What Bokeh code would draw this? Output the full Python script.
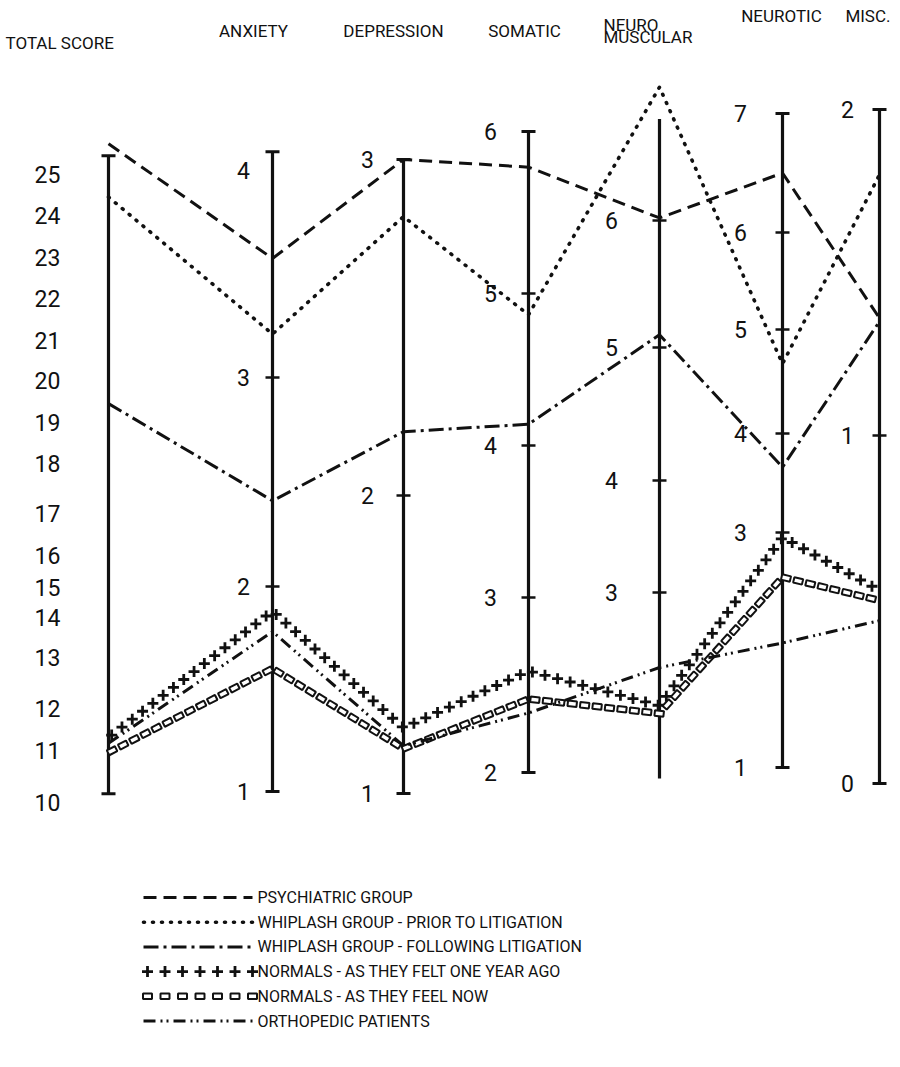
import numpy as np
from bokeh.plotting import figure
from bokeh.models import Range1d
from bokeh.core.properties import value
from bokeh.embed import file_html
from bokeh.resources import INLINE

# ---------------- data ----------------
AXIS_NAMES = ["TOTAL SCORE", "ANXIETY", "DEPRESSION", "SOMATIC", "NEURO", "NEUROTIC", "MISC."]
AXIS_SUBNAME = "MUSCULAR"

TOTAL_TICKS = [10, 11, 12, 13, 14, 15, 16, 17, 18, 19, 20, 21, 22, 23, 24, 25]
ANXIETY_TICKS = [1, 2, 3, 4]
DEPRESSION_TICKS = [1, 2, 3]
SOMATIC_TICKS = [2, 3, 4, 5, 6]
NEURO_TICKS = [3, 4, 5, 6]
NEUROTIC_TICKS = [1, 3, 4, 5, 6, 7]
MISC_TICKS = [0, 1, 2]

SERIES_NAMES = [
    "PSYCHIATRIC GROUP",
    "WHIPLASH GROUP - PRIOR TO LITIGATION",
    "WHIPLASH GROUP - FOLLOWING LITIGATION",
    "NORMALS - AS THEY FELT ONE YEAR AGO",
    "NORMALS - AS THEY FEEL NOW",
    "ORTHOPEDIC PATIENTS",
]
# values on: total, anxiety, depression, somatic, neuro-muscular, neurotic, misc.
PSYCHIATRIC = [25.75, 3.575, 3.0, 5.78, 6.02, 6.50, 1.36]
WHIPLASH_PRIOR = [24.45, 3.21, 2.83, 4.86, 7.05, 4.67, 1.80]
WHIPLASH_FOLLOWING = [19.45, 2.41, 2.19, 4.14, 5.10, 3.66, 1.35]
NORMALS_YEAR_AGO = [11.31, 1.88, 1.22, 2.58, 1.99, 2.96, 0.555]
NORMALS_NOW = [10.96, 1.60, 1.15, 2.42, 1.92, 2.62, 0.526]
ORTHOPEDIC = [11.17, 1.78, 1.16, 2.34, 2.33, 2.06, 0.468]

# ---------------- layout / style ----------------
TICKS = [TOTAL_TICKS, ANXIETY_TICKS, DEPRESSION_TICKS, SOMATIC_TICKS,
         NEURO_TICKS, NEUROTIC_TICKS, MISC_TICKS]
AXIS_X = [108, 272, 403, 528, 659, 782, 879]
# vertical calibration of each (non-uniform, hand-drawn) axis: screen row of each tick
TICK_ROWS = [
    [802, 750, 708, 657, 617, 587, 555, 513, 463, 422, 380, 340, 298, 257, 215, 174],
    [791, 586, 377, 170],
    [793, 495, 159],
    [772, 597, 445, 293, 131],
    [592, 480, 347, 220],
    [767, 532, 433, 329, 232, 113],
    [783, 435, 109],
]
AXIS_EXTENT = [(10.17, 25.46), (1.0, 4.09), (1.0, 3.0), (2.0, 6.0), (1.34, 6.8), (1.0, 7.0), (0.0, 2.0)]
AXIS_CAPS = [True, True, True, True, False, True, True]
TICK_MARKS = [[], [2, 3], [2], [3, 4, 5], [3, 4, 5, 6], [3, 4, 5, 6], [1]]
LABEL_DX = [-61, -29, -36, -38, -48, -42, -32]

HEADER_X = [5, 253, 393, 524, 603, 781, 890]
HEADER_Y = [42, 30, 30, 30, 24, 15, 15]
HEADER_ALIGN = ["left", "center", "center", "center", "left", "center", "right"]

FONT = value("Roboto")


def scale(i, v):
    t = np.asarray(TICKS[i], float)
    r = np.asarray(TICK_ROWS[i], float)
    v = np.atleast_1d(np.asarray(v, float))
    out = np.interp(v, t, r)
    lo = v < t[0]
    hi = v > t[-1]
    out[lo] = r[0] + (v[lo] - t[0]) * (r[1] - r[0]) / (t[1] - t[0])
    out[hi] = r[-1] + (v[hi] - t[-1]) * (r[-1] - r[-2]) / (t[-1] - t[-2])
    return out


def series_xy(vals):
    xs = [float(AXIS_X[i]) for i in range(len(vals))]
    ys = [float(scale(i, vals[i])[0]) for i in range(len(vals))]
    return xs, ys


def along(xs, ys, step, start=0.0):
    """points spaced evenly (in screen px) along a polyline, with the local angle"""
    px, py, ang = [], [], []
    carry = start
    for k in range(len(xs) - 1):
        x0, y0, x1, y1 = xs[k], ys[k], xs[k + 1], ys[k + 1]
        L = np.hypot(x1 - x0, y1 - y0)
        a = np.arctan2(-(y1 - y0), x1 - x0)
        d = carry
        while d <= L:
            f = d / L
            px.append(x0 + f * (x1 - x0))
            py.append(y0 + f * (y1 - y0))
            ang.append(a)
            d += step
        carry = d - L
    return px, py, ang


p = figure(width=892, height=1059, x_range=Range1d(0, 892), y_range=Range1d(1059, 0),
           output_backend="svg", toolbar_location=None, min_border=0,
           x_axis_location=None, y_axis_location=None)
p.grid.visible = False
p.outline_line_color = None
p.background_fill_color = "white"

INK = "#111111"

# ---- axes ----
for i in range(7):
    lo, hi = AXIS_EXTENT[i]
    y0, y1 = scale(i, [lo, hi])
    x = AXIS_X[i]
    p.segment(x0=[x], y0=[y0], x1=[x], y1=[y1], line_width=3.2, line_color=INK)
    if AXIS_CAPS[i]:
        p.segment(x0=[x - 7, x - 7], y0=[y0, y1], x1=[x + 7, x + 7], y1=[y0, y1],
                  line_width=3, line_color=INK)
    if TICK_MARKS[i]:
        ty = scale(i, TICK_MARKS[i])
        p.segment(x0=[x - 7] * len(ty), y0=list(ty), x1=[x + 7] * len(ty), y1=list(ty),
                  line_width=2.5, line_color=INK)
    ly = scale(i, TICKS[i])
    p.text(x=[x + LABEL_DX[i]] * len(ly), y=list(ly), text=[str(t) for t in TICKS[i]],
           text_font=FONT, text_font_size="23px", text_align="center",
           text_baseline="middle", text_color=INK)

# ---- headers ----
for i, name in enumerate(AXIS_NAMES):
    p.text(x=[HEADER_X[i]], y=[HEADER_Y[i]], text=[name], text_font=FONT,
           text_font_size="17px", text_align=HEADER_ALIGN[i], text_baseline="middle",
           text_color=INK)
p.text(x=[HEADER_X[4]], y=[HEADER_Y[4] + 12], text=[AXIS_SUBNAME], text_font=FONT,
       text_font_size="17px", text_align="left", text_baseline="middle", text_color=INK)

# ---- series ----
ALL = [PSYCHIATRIC, WHIPLASH_PRIOR, WHIPLASH_FOLLOWING, NORMALS_YEAR_AGO, NORMALS_NOW, ORTHOPEDIC]
DASHES = ["13 7", "1 8", "15 5 3 5", None, None, "12 5 2 4 2 5"]


def draw(xs, ys, k, step=None):
    if k in (0, 1, 2, 5):
        p.line(xs, ys, line_width=3.6 if k == 1 else 3, line_color=INK, line_dash=DASHES[k],
               line_cap="round" if k == 1 else "butt", line_join="round")
    elif k == 3:
        px, py, _ = along(xs, ys, step or 13.0, 4.0)
        p.scatter(px, py, marker="cross", size=11, line_width=2.8, line_color=INK)
    elif k == 4:
        px, py, ang = along(xs, ys, step or 12.5, 4.0)
        p.rect(px, py, width=9, height=5.5, width_units="screen", height_units="screen",
               angle=ang, fill_color="white", line_color=INK, line_width=2)


for k, vals in enumerate(ALL):
    xs, ys = series_xy(vals)
    draw(xs, ys, k)

# ---- legend ----
LEG_X0, LEG_X1, LEG_TX = 143, 252, 257
LEG_Y0, LEG_DY = 897, 24.7
for k, name in enumerate(SERIES_NAMES):
    y = LEG_Y0 + k * LEG_DY
    draw([LEG_X0, LEG_X1], [y, y], k, step=17.5)
    p.text(x=[LEG_TX], y=[y], text=[name], text_font=FONT, text_font_size="16px",
           text_align="left", text_baseline="middle", text_color=INK)

open("out.html", "w").write(file_html(p, INLINE))
